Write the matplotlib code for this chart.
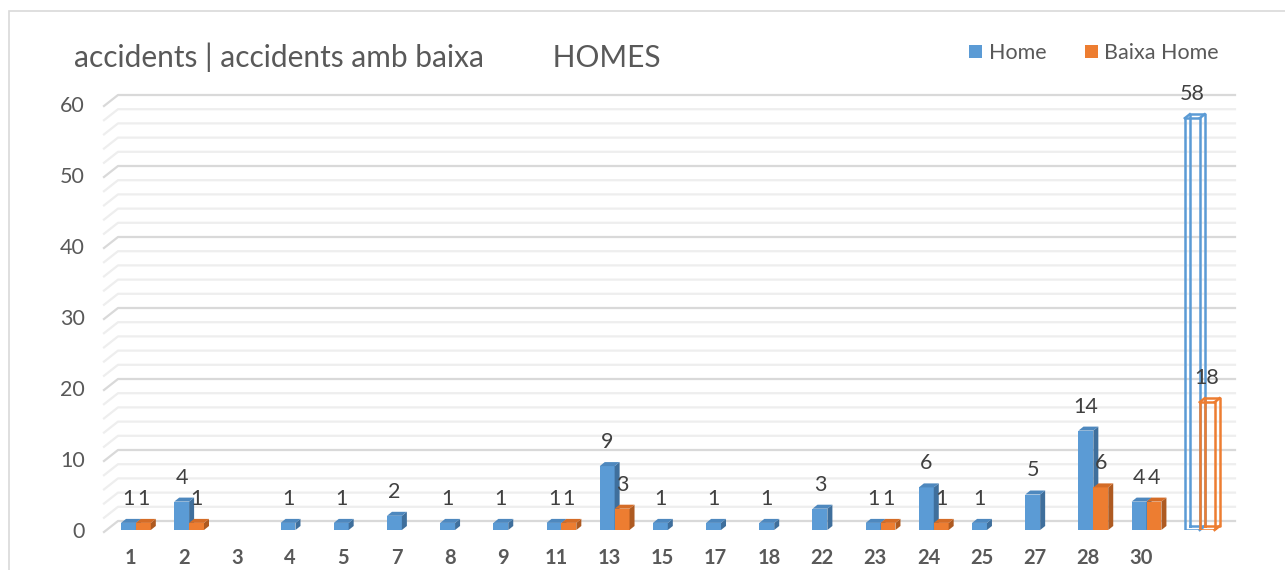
import matplotlib
matplotlib.use("Agg")
import matplotlib.pyplot as plt
from matplotlib.patches import Polygon, Rectangle, Patch
from matplotlib.lines import Line2D
from matplotlib.transforms import IdentityTransform

# chart data
categories = ["1", "2", "3", "4", "5", "7", "8", "9", "11", "13", "15",
              "17", "18", "22", "23", "24", "25", "27", "28", "30", ""]
home = [1, 4, 0, 1, 1, 2, 1, 1, 1, 9, 1, 1, 1, 3, 1, 6, 1, 5, 14, 4, 58]
baixa = [1, 1, 0, 0, 0, 0, 0, 0, 1, 3, 0, 0, 0, 0, 1, 1, 0, 0, 6, 4, 18]

BLUE, BLUE_SIDE, BLUE_TOP = "#5B9BD5", "#3F6F9C", "#4E88BE"
ORANGE, ORANGE_SIDE, ORANGE_TOP = "#ED7D31", "#AE5A21", "#D46C27"
TXT = "#595959"
DX, DY = 5, 4  # 3d depth of bars in pixels

W, H = 1285, 570
fig = plt.figure(figsize=(W / 100, H / 100), dpi=100)
fig.patch.set_facecolor("white")

# chart border
fig.add_artist(Rectangle((9 / W, -0.1), 1.1, 1 - 11 / H + 0.1, transform=fig.transFigure,
                         fill=False, edgecolor="#d9d9d9", linewidth=1.2))

ax = fig.add_axes([104 / W, 40 / H, (1221 - 104) / W, (530 - 104) / H])
ax.set_xlim(-0.5, len(categories) - 0.5)
ax.set_ylim(0, 60)
ax.patch.set_visible(False)
for s in ax.spines.values():
    s.set_visible(False)

ident = IdentityTransform()

# back wall gridlines with slanted floor segment
xl = ax.transData.transform((-0.5, 0))[0]
xr = ax.transData.transform((len(categories) - 0.5, 0))[0]
for v in range(0, 61, 2):
    py = ax.transData.transform((0, v))[1]
    c = "#d9d9d9" if v % 10 == 0 else "#eeeeee"
    ax.add_line(Line2D([xl, xl + 14, xr + 14], [py - 2, py + 9, py + 9], color=c,
                       linewidth=1.6, transform=ident, zorder=0, clip_on=False))


def solid_bar(x, h, w, front, side, top, z):
    ax.bar(x, h, w, color=front, zorder=z, linewidth=0)
    x0, y0 = ax.transData.transform((x - w / 2, 0))
    x1, y1 = ax.transData.transform((x + w / 2, h))
    ax.add_patch(Polygon([(x1, y0), (x1 + DX, y0 + DY), (x1 + DX, y1 + DY), (x1, y1)],
                         closed=True, facecolor=side, edgecolor="none",
                         transform=ident, zorder=z, clip_on=False))
    ax.add_patch(Polygon([(x0, y1), (x1, y1), (x1 + DX, y1 + DY), (x0 + DX, y1 + DY)],
                         closed=True, facecolor=top, edgecolor="none",
                         transform=ident, zorder=z, clip_on=False))


def hollow_bar(x, h, w, color, z):
    ax.bar(x, h, w, fill=False, edgecolor=color, linewidth=1.8, zorder=z)
    x0, y0 = ax.transData.transform((x - w / 2, 0))
    x1, y1 = ax.transData.transform((x + w / 2, h))
    ax.add_line(Line2D([x0 + DX, x0 + DX, x1 + DX, x1 + DX, x0 + DX],
                       [y0 + DY, y1 + DY, y1 + DY, y0 + DY, y0 + DY],
                       color=color, linewidth=1.8, transform=ident, zorder=z, clip_on=False))
    for cx, cy in [(x0, y1), (x1, y1), (x1, y0)]:
        ax.add_line(Line2D([cx, cx + DX], [cy, cy + DY], color=color, linewidth=1.8,
                           transform=ident, zorder=z, clip_on=False))


bw = 0.28
last = len(categories) - 1
for i in range(len(categories)):
    xh, xb = i - 0.04, i + 0.24
    if i == last:
        hollow_bar(xh, home[i], bw, BLUE, 3)
        hollow_bar(xb, baixa[i], bw, ORANGE, 4)
    else:
        if home[i] > 0:
            solid_bar(xh, home[i], bw, BLUE, BLUE_SIDE, BLUE_TOP, 3)
        if baixa[i] > 0:
            solid_bar(xb, baixa[i], bw, ORANGE, ORANGE_SIDE, ORANGE_TOP, 4)
    for xv, v in [(xh, home[i]), (xb, baixa[i])]:
        if v > 0:
            ax.annotate(str(v), (xv, v), xytext=(0, 18), textcoords="offset pixels",
                        ha="center", va="baseline", fontsize=15.5, color="#404040",
                        family="Lato", zorder=10)

ax.set_xticks(range(len(categories)))
ax.set_xticklabels(categories, fontsize=14.5, fontweight="bold", color=TXT, family="Lato")
ax.set_yticks(range(0, 61, 10))
ax.set_yticklabels([str(v) for v in range(0, 61, 10)], fontsize=15.5, color=TXT, family="Lato")
ax.tick_params(axis="x", length=0, pad=13)
ax.tick_params(axis="y", length=0, pad=14)

fig.text(74 / W, 1 - 57 / H, "accidents | accidents amb baixa         HOMES",
         fontsize=21.5, color=TXT, family="Lato", va="center")

handles = [Patch(facecolor=BLUE, label="Home"), Patch(facecolor=ORANGE, label="Baixa Home")]
leg = fig.legend(handles=handles, loc="center left", bbox_to_anchor=(950 / W, 1 - 53 / H),
                 ncol=2, frameon=False, handlelength=0.6, handleheight=0.6,
                 handletextpad=0.3, columnspacing=1.8, prop={"family": "Lato", "size": 15.5})
for t in leg.get_texts():
    t.set_color(TXT)

fig.savefig("out.png", dpi=100)
